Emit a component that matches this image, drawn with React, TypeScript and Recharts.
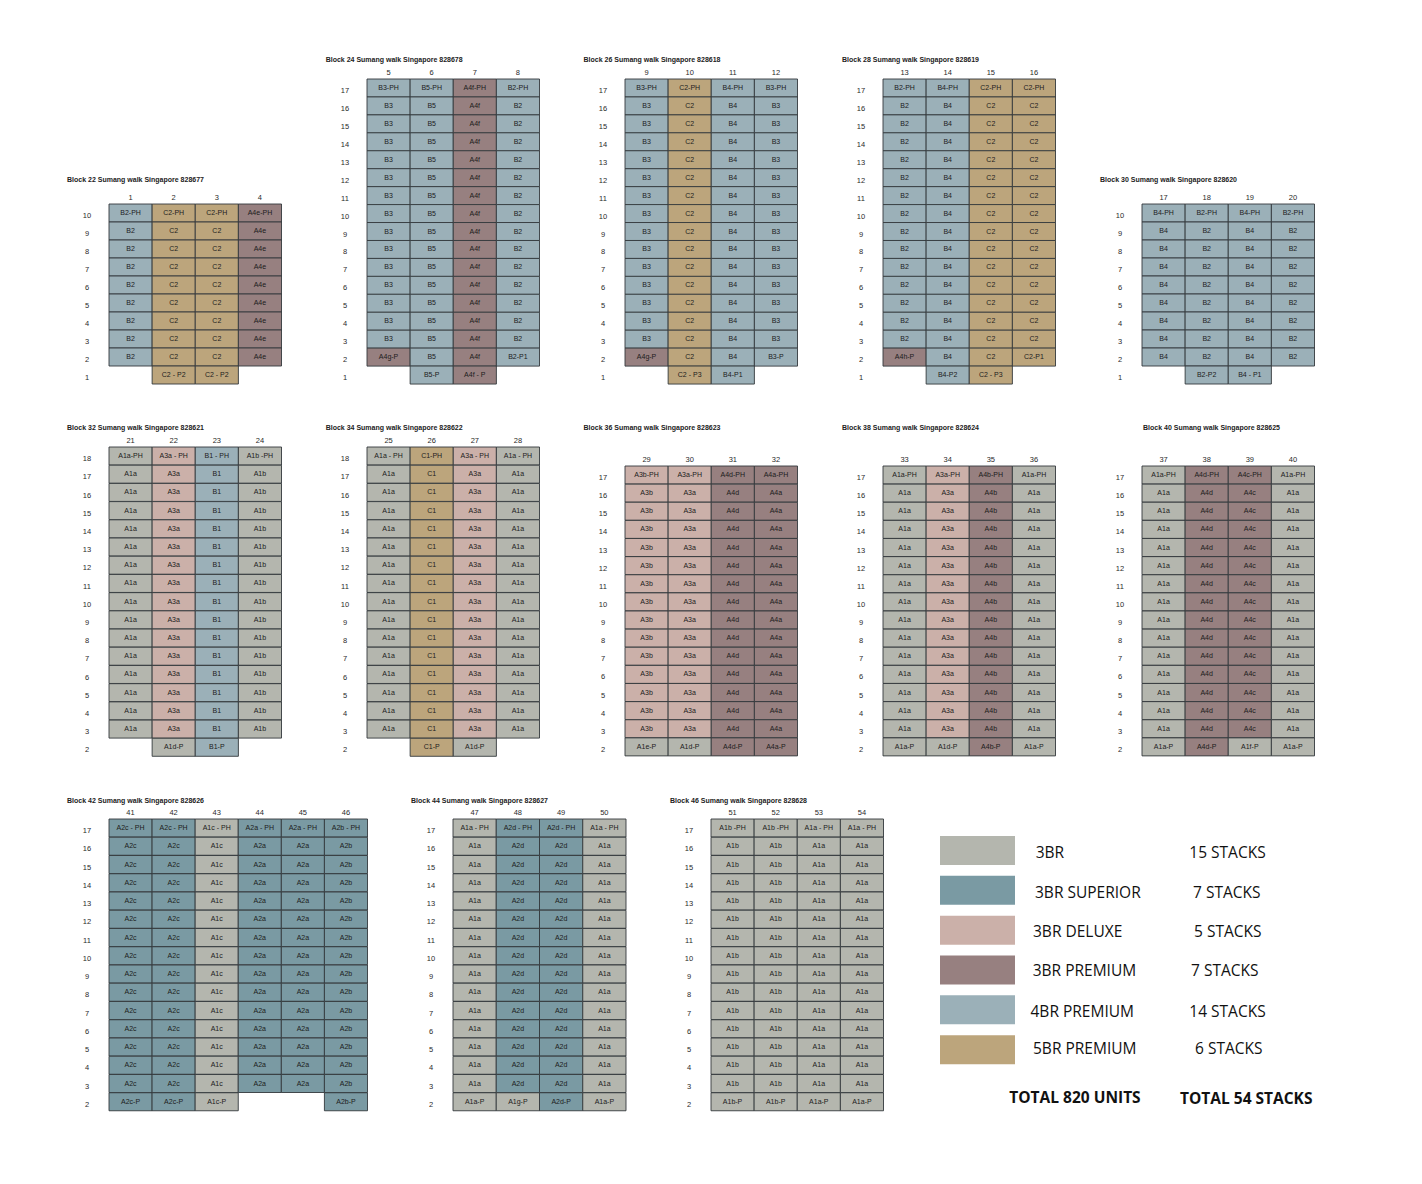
import { Bar, BarChart, Cell, LabelList, XAxis, YAxis } from "recharts";

const floors10 = ["10", "9", "8", "7", "6", "5", "4", "3", "2", "1"];
const floors17to1 = ["17", "16", "15", "14", "13", "12", "11", "10", "9", "8", "7", "6", "5", "4", "3", "2", "1"];
const floors18to2 = ["18", "17", "16", "15", "14", "13", "12", "11", "10", "9", "8", "7", "6", "5", "4", "3", "2"];
const floors17to2 = ["17", "16", "15", "14", "13", "12", "11", "10", "9", "8", "7", "6", "5", "4", "3", "2"];

const r22 = ["B2", "C2", "C2", "A4e"];
const block22 = [["B2-PH", "C2-PH", "C2-PH", "A4e-PH"], r22, r22, r22, r22, r22, r22, r22, r22, ["", "C2 - P2", "C2 - P2", ""]];
const r24 = ["B3", "B5", "A4f", "B2"];
const block24 = [["B3-PH", "B5-PH", "A4f-PH", "B2-PH"], r24, r24, r24, r24, r24, r24, r24, r24, r24, r24, r24, r24, r24, r24, ["A4g-P", "B5", "A4f", "B2-P1"], ["", "B5-P", "A4f - P", ""]];
const r26 = ["B3", "C2", "B4", "B3"];
const block26 = [["B3-PH", "C2-PH", "B4-PH", "B3-PH"], r26, r26, r26, r26, r26, r26, r26, r26, r26, r26, r26, r26, r26, r26, ["A4g-P", "C2", "B4", "B3-P"], ["", "C2 - P3", "B4-P1", ""]];
const r28 = ["B2", "B4", "C2", "C2"];
const block28 = [["B2-PH", "B4-PH", "C2-PH", "C2-PH"], r28, r28, r28, r28, r28, r28, r28, r28, r28, r28, r28, r28, r28, r28, ["A4h-P", "B4", "C2", "C2-P1"], ["", "B4-P2", "C2 - P3", ""]];
const r30 = ["B4", "B2", "B4", "B2"];
const block30 = [["B4-PH", "B2-PH", "B4-PH", "B2-PH"], r30, r30, r30, r30, r30, r30, r30, r30, ["", "B2-P2", "B4 - P1", ""]];
const r32 = ["A1a", "A3a", "B1", "A1b"];
const block32 = [["A1a-PH", "A3a - PH", "B1 - PH", "A1b -PH"], r32, r32, r32, r32, r32, r32, r32, r32, r32, r32, r32, r32, r32, r32, r32, ["", "A1d-P", "B1-P", ""]];
const r34 = ["A1a", "C1", "A3a", "A1a"];
const block34 = [["A1a - PH", "C1-PH", "A3a - PH", "A1a - PH"], r34, r34, r34, r34, r34, r34, r34, r34, r34, r34, r34, r34, r34, r34, r34, ["", "C1-P", "A1d-P", ""]];
const r36 = ["A3b", "A3a", "A4d", "A4a"];
const block36 = [["A3b-PH", "A3a-PH", "A4d-PH", "A4a-PH"], r36, r36, r36, r36, r36, r36, r36, r36, r36, r36, r36, r36, r36, r36, ["A1e-P", "A1d-P", "A4d-P", "A4a-P"]];
const r38 = ["A1a", "A3a", "A4b", "A1a"];
const block38 = [["A1a-PH", "A3a-PH", "A4b-PH", "A1a-PH"], r38, r38, r38, r38, r38, r38, r38, r38, r38, r38, r38, r38, r38, r38, ["A1a-P", "A1d-P", "A4b-P", "A1a-P"]];
const r40 = ["A1a", "A4d", "A4c", "A1a"];
const block40 = [["A1a-PH", "A4d-PH", "A4c-PH", "A1a-PH"], r40, r40, r40, r40, r40, r40, r40, r40, r40, r40, r40, r40, r40, r40, ["A1a-P", "A4d-P", "A1f-P", "A1a-P"]];
const r42 = ["A2c", "A2c", "A1c", "A2a", "A2a", "A2b"];
const block42 = [["A2c - PH", "A2c - PH", "A1c - PH", "A2a - PH", "A2a - PH", "A2b - PH"], r42, r42, r42, r42, r42, r42, r42, r42, r42, r42, r42, r42, r42, r42, ["A2c-P", "A2c-P", "A1c-P", "", "", "A2b-P"]];
const r44 = ["A1a", "A2d", "A2d", "A1a"];
const block44 = [["A1a - PH", "A2d - PH", "A2d - PH", "A1a - PH"], r44, r44, r44, r44, r44, r44, r44, r44, r44, r44, r44, r44, r44, r44, ["A1a-P", "A1g-P", "A2d-P", "A1a-P"]];
const r46 = ["A1b", "A1b", "A1a", "A1a"];
const block46 = [["A1b -PH", "A1b -PH", "A1a - PH", "A1a - PH"], r46, r46, r46, r46, r46, r46, r46, r46, r46, r46, r46, r46, r46, r46, ["A1b-P", "A1b-P", "A1a-P", "A1a-P"]];

const legendTypes = ["3BR", "3BR SUPERIOR", "3BR DELUXE", "3BR PREMIUM", "4BR PREMIUM", "5BR PREMIUM"];
const legendStacks = ["15 STACKS", "7 STACKS", "5 STACKS", "7 STACKS", "14 STACKS", "6 STACKS"];

const COLORS: Record<string, string> = {
  A1: "#b4b6ae",
  A2: "#7a9aa3",
  A3: "#cbb0a9",
  A4: "#978080",
  B: "#9bb0b8",
  C: "#bca57c",
};
const legendColors = [COLORS.A1, COLORS.A2, COLORS.A3, COLORS.A4, COLORS.B, COLORS.C];

const unitColor = (unit: string) => COLORS[unit.slice(0, 2)] ?? COLORS[unit[0]];

const FONT = "'Liberation Sans', Arial, sans-serif";
const LEGEND_FONT = "'Open Sans', sans-serif";
const LINE = "#33393c";
const AXIS_W = 40;
const AXIS_H = 14;

type BlockProps = {
  title: string;
  titleX: number;
  titleY: number;
  stacks: number[];
  floors: string[];
  units: string[][];
  left: number;
  top: number;
  right: number;
  bottom: number;
};

const FloorTick = ({ x, y, payload }: any) => (
  <text x={x} y={y + 5} textAnchor="middle" fontSize={7.5} fontFamily={FONT} fill="#2a2a2a">
    {payload.value}
  </text>
);

// LabelList wraps text to the bar width by default, "A3a - PH" has to stay on one line
const UnitLabel = ({ x, y, width, height, value }: any) =>
  value ? (
    <text x={x + width / 2} y={y + height / 2 - 0.5} textAnchor="middle" dominantBaseline="central" fontSize={7} fontFamily={FONT} fill="#1c1c1c">
      {value}
    </text>
  ) : null;

function Block({ title, titleX, titleY, stacks, floors, units, left, top, right, bottom }: BlockProps) {
  const rows = floors.map((floor, i) => {
    const row: Record<string, string | number> = { floor };
    stacks.forEach((_, s) => {
      row[`v${s}`] = 1;
      row[`u${s}`] = units[i][s];
    });
    return row;
  });
  const width = right - left;
  const height = bottom - top;

  return (
    <>
      <div style={{ position: "absolute", left: titleX, top: titleY - 5, font: `bold 7px/10px ${FONT}`, color: "#222", whiteSpace: "nowrap" }}>
        {title}
      </div>
      <div style={{ position: "absolute", left: left - AXIS_W, top: top - AXIS_H }}>
        <BarChart
          width={width + AXIS_W + 2}
          height={height + AXIS_H + 2}
          data={rows}
          layout="vertical"
          barCategoryGap={0}
          margin={{ top: 0, right: 2, bottom: 2, left: 0 }}
        >
          <XAxis
            type="number"
            orientation="top"
            domain={[0, stacks.length]}
            ticks={stacks.map((_, s) => s + 0.5)}
            tickFormatter={(v: number) => String(stacks[Math.floor(v)])}
            interval={0}
            height={AXIS_H}
            axisLine={false}
            tickLine={false}
            tickSize={0}
            tickMargin={4}
            tick={{ fontSize: 7.5, fontFamily: FONT, fill: "#2a2a2a" }}
          />
          <YAxis
            type="category"
            dataKey="floor"
            width={AXIS_W}
            interval={0}
            axisLine={false}
            tickLine={false}
            tickSize={0}
            tickMargin={22}
            tick={<FloorTick />}
          />
          {stacks.map((stack, s) => (
            <Bar key={stack} dataKey={`v${s}`} stackId="block" isAnimationActive={false}>
              {rows.map((row) => {
                const unit = row[`u${s}`] as string;
                return (
                  <Cell
                    key={String(row.floor)}
                    fill={unit ? unitColor(unit) : "none"}
                    stroke={unit ? LINE : "none"}
                    strokeWidth={0.9}
                  />
                );
              })}
              <LabelList dataKey={`u${s}`} content={<UnitLabel />} />
            </Bar>
          ))}
        </BarChart>
      </div>
    </>
  );
}

// pixel layout, kept away from the unit tables
const BLOCKS = [
  { title: "Block 22 Sumang walk Singapore 828677", titleX: 67, titleY: 180, stacks: [1, 2, 3, 4], floors: floors10, units: block22, left: 108.5, top: 203.5, right: 281, bottom: 383.5 },
  { title: "Block 24 Sumang walk Singapore 828678", titleX: 325.7, titleY: 60, stacks: [5, 6, 7, 8], floors: floors17to1, units: block24, left: 366.5, top: 78.5, right: 539, bottom: 383.5 },
  { title: "Block 26 Sumang walk Singapore 828618", titleX: 583.5, titleY: 60, stacks: [9, 10, 11, 12], floors: floors17to1, units: block26, left: 625, top: 78.5, right: 797.5, bottom: 383.5 },
  { title: "Block 28 Sumang walk Singapore 828619", titleX: 842, titleY: 60, stacks: [13, 14, 15, 16], floors: floors17to1, units: block28, left: 883, top: 78.5, right: 1055.5, bottom: 383.5 },
  { title: "Block 30 Sumang walk Singapore 828620", titleX: 1100, titleY: 180, stacks: [17, 18, 19, 20], floors: floors10, units: block30, left: 1141.5, top: 203.5, right: 1314, bottom: 383.5 },
  { title: "Block 32 Sumang walk Singapore 828621", titleX: 67, titleY: 428, stacks: [21, 22, 23, 24], floors: floors18to2, units: block32, left: 108.5, top: 446.5, right: 281, bottom: 756 },
  { title: "Block 34 Sumang walk Singapore 828622", titleX: 325.7, titleY: 428, stacks: [25, 26, 27, 28], floors: floors18to2, units: block34, left: 366.5, top: 446.5, right: 539, bottom: 756 },
  { title: "Block 36 Sumang walk Singapore 828623", titleX: 583.5, titleY: 428, stacks: [29, 30, 31, 32], floors: floors17to2, units: block36, left: 625, top: 466, right: 797.5, bottom: 756 },
  { title: "Block 38 Sumang walk Singapore 828624", titleX: 842, titleY: 428, stacks: [33, 34, 35, 36], floors: floors17to2, units: block38, left: 883, top: 466, right: 1055.5, bottom: 756 },
  { title: "Block 40 Sumang walk Singapore 828625", titleX: 1143, titleY: 428, stacks: [37, 38, 39, 40], floors: floors17to2, units: block40, left: 1141.5, top: 466, right: 1314, bottom: 756 },
  { title: "Block 42 Sumang walk Singapore 828626", titleX: 67, titleY: 800.5, stacks: [41, 42, 43, 44, 45, 46], floors: floors17to2, units: block42, left: 108.5, top: 818.5, right: 367, bottom: 1110.5 },
  { title: "Block 44 Sumang walk Singapore 828627", titleX: 411, titleY: 800.5, stacks: [47, 48, 49, 50], floors: floors17to2, units: block44, left: 452.5, top: 818.5, right: 625.5, bottom: 1110.5 },
  { title: "Block 46 Sumang walk Singapore 828628", titleX: 670, titleY: 800.5, stacks: [51, 52, 53, 54], floors: floors17to2, units: block46, left: 711, top: 818.5, right: 883.5, bottom: 1110.5 },
];

const legendRows = legendTypes.map((type) => ({ type, swatch: 1 }));
const LEGEND_Y = [851.7, 891.7, 931, 969.5, 1010.5, 1048];
const LEGEND_TYPE_X = [1035.7, 1035, 1033, 1032.7, 1030.5, 1033];
const LEGEND_STACK_X = [1189.3, 1193, 1194, 1191, 1189.3, 1195];

const textStyle = (x: number, y: number, bold = false) => ({
  position: "absolute" as const,
  left: x,
  top: y - 11,
  font: `${bold ? "bold" : "normal"} 15.5px/22px ${LEGEND_FONT}`,
  color: "#111",
  whiteSpace: "nowrap" as const,
});

export default function App() {
  return (
    <div style={{ position: "absolute", left: 0, top: 0, width: 1422, height: 1184, background: "#fff", overflow: "hidden" }}>
      {BLOCKS.map((b) => (
        <Block key={b.title} {...b} />
      ))}

      <div style={{ position: "absolute", left: 940, top: 831 }}>
        <BarChart width={75} height={239} data={legendRows} layout="vertical" margin={{ top: 0, right: 0, bottom: 0, left: 0 }}>
          <XAxis type="number" domain={[0, 1]} hide />
          <YAxis type="category" dataKey="type" hide />
          <Bar dataKey="swatch" barSize={29} isAnimationActive={false}>
            {legendRows.map((row, i) => (
              <Cell key={row.type} fill={legendColors[i]} />
            ))}
          </Bar>
        </BarChart>
      </div>

      {legendTypes.map((type, i) => (
        <div key={type} style={textStyle(LEGEND_TYPE_X[i], LEGEND_Y[i])}>{type}</div>
      ))}
      {legendStacks.map((text, i) => (
        <div key={i} style={textStyle(LEGEND_STACK_X[i], LEGEND_Y[i])}>{text}</div>
      ))}
      <div style={textStyle(1009.3, 1096.7, true)}>TOTAL 820 UNITS</div>
      <div style={textStyle(1180, 1098.3, true)}>TOTAL 54 STACKS</div>
    </div>
  );
}
